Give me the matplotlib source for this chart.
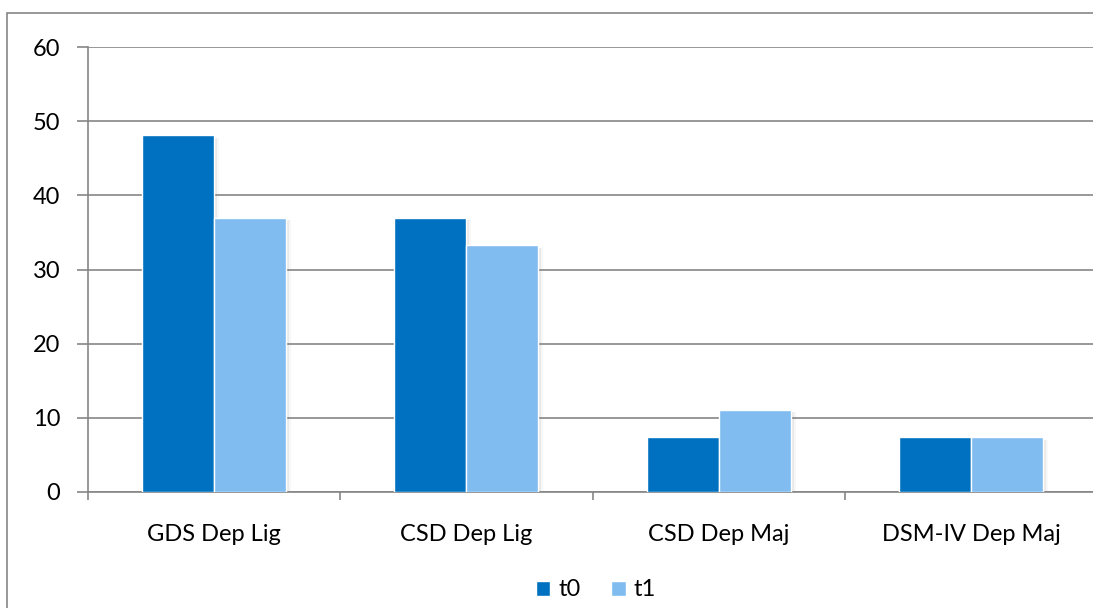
import numpy as np
import matplotlib
matplotlib.use("Agg")
import matplotlib.pyplot as plt
from matplotlib.patches import Rectangle

categories = ["GDS Dep Lig", "CSD Dep Lig", "CSD Dep Maj", "DSM-IV Dep Maj"]
t0 = [48.1, 37.0, 7.4, 7.4]
t1 = [37.0, 33.3, 11.1, 7.4]

plt.rcParams['font.family'] = ['Lato', 'DejaVu Sans']

fig = plt.figure(figsize=(10.93, 6.08), dpi=100)
# chart frame
fig.patches.append(Rectangle((7 / 1093, -0.05), 1.2, 1 - 13 / 608 + 0.05,
                             transform=fig.transFigure, fill=False,
                             edgecolor='#868686', linewidth=1.2, zorder=0))

ax = fig.add_axes([88 / 1093, 1 - 492 / 608, 1009 / 1093, 445 / 608])

x = np.arange(len(categories))
w = 0.285
c0 = '#0070C0'
c1 = '#80BCF0'

# soft shadow behind the bars
for dx, a in [(0.012, 0.10), (0.020, 0.06)]:
    ax.bar(x - w / 2 + dx, t0, w, bottom=-0.35, color='#777777', alpha=a, zorder=1, linewidth=0)
    ax.bar(x + w / 2 + dx, t1, w, bottom=-0.35, color='#777777', alpha=a, zorder=1, linewidth=0)

ax.bar(x - w / 2, t0, w, color=c0, edgecolor='white', linewidth=1, zorder=3, label='t0')
ax.bar(x + w / 2, t1, w, color=c1, edgecolor='white', linewidth=1, zorder=3, label='t1')

ax.set_xlim(-0.5, len(categories) - 0.5)
ax.set_ylim(0, 60)
ax.set_yticks(range(0, 61, 10))
ax.yaxis.grid(True, color='#868686', linewidth=1.2, zorder=0)
ax.set_axisbelow(True)

ax.set_xticks(x)
ax.set_xticklabels(categories)
ax.set_xticks(np.arange(len(categories) + 1) - 0.5, minor=True)
ax.tick_params(axis='x', which='major', length=0, pad=23, labelsize=17)
ax.tick_params(axis='x', which='minor', length=6, color='#868686', width=1.2)
ax.tick_params(axis='y', length=8, color='#868686', width=1.2, pad=12, labelsize=17)

for s in ['top', 'right']:
    ax.spines[s].set_visible(False)
for s in ['left', 'bottom']:
    ax.spines[s].set_color('#868686')
    ax.spines[s].set_linewidth(1.2)

fig.legend(loc='center', bbox_to_anchor=(596 / 1093, 1 - 590 / 608), ncol=2,
           frameon=False, fontsize=17, handlelength=0.6, handleheight=0.6,
           handletextpad=0.35, columnspacing=1.3)

fig.savefig('out.png', dpi=100)
